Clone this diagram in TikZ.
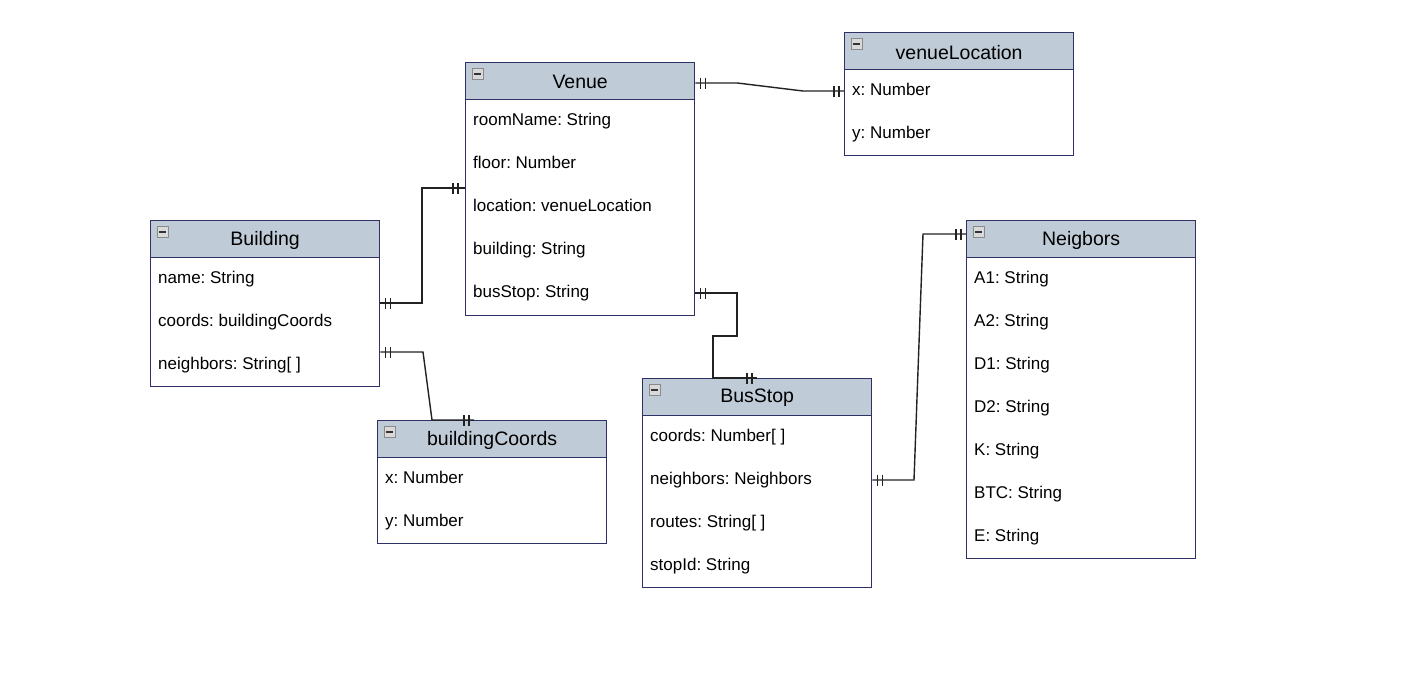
\documentclass[tikz,border=0pt]{standalone}
\usepackage{fontspec}
\setmainfont{Liberation Sans}
\usetikzlibrary{calc}
\frenchspacing
\definecolor{hdrfill}{HTML}{BFCBD6}
\definecolor{boxline}{HTML}{2E3066}
\definecolor{iconfill}{HTML}{D9D9D9}
\definecolor{iconline}{HTML}{8A8A8A}
\definecolor{connline}{HTML}{222222}
\tikzset{
  ebody/.style={draw=boxline, line width=1.3pt, fill=white, minimum width=229, inner sep=0pt},
  ehead/.style={draw=boxline, line width=1.3pt, fill=hdrfill, minimum width=229, minimum height=37, inner sep=0pt},
  etitle/.style={font=\fontsize{19.5}{22}\selectfont, inner sep=0pt, text=black},
  efield/.style={font=\fontsize{17}{20}\selectfont, inner sep=0pt, text=black},
  eicon/.style={draw=iconline, fill=iconfill, line width=0.7pt, minimum size=11, inner sep=0pt},
  icondash/.style={draw=black!80, line width=1.6pt},
  conn/.style={draw=connline, line width=1.4pt},
  dbltick/.pic={\draw[conn] (5,-5.5) -- (5,5.5) (10,-5.5) -- (10,5.5);}
}
\newcommand\erbox[5]{%
  \node[ebody, minimum height=#3, anchor=north west] (#1) at #2 {};
  \node[ehead, anchor=north west] (#1-h) at (#1.north west) {};
  \node[etitle] (#1-t) at ($(#1-h.center)+(0,1)$) {#4};
  \node[eicon, anchor=north west] (#1-i) at ($(#1.north west)+(7,6)$) {};
  \draw[icondash] ($(#1-i.center)+(-3.5,0)$) -- ($(#1-i.center)+(3.5,0)$);
  \foreach \f [count=\k] in {#5} {
    \node[efield, anchor=base west] (#1-f\k) at ($(#1.north west)+(8,20+43*\k)$) {\f};
  }%
}
\begin{document}
\begin{tikzpicture}[x=1pt, y=-1pt]
\useasboundingbox[fill=white] (0,0) rectangle (1408,680);

\erbox{venue}{(465,62)}{253}{Venue}{{roomName: String},{floor: Number},{location: venueLocation},{building: String},{busStop: String}}
\erbox{vloc}{(844,32)}{123}{venueLocation}{{x: Number},{y: Number}}
\erbox{bld}{(150,220)}{166}{Building}{{name: String},{coords: buildingCoords},{neighbors: String[ ]}}
\erbox{bc}{(377,420)}{123}{buildingCoords}{{x: Number},{y: Number}}
\erbox{bus}{(642,378)}{209}{BusStop}{{coords: Number[ ]},{neighbors: Neighbors},{routes: String[ ]},{stopId: String}}
\erbox{neig}{(966,220)}{338}{Neigbors}{{A1: String},{A2: String},{D1: String},{D2: String},{K: String},{BTC: String},{E: String}}

% connector end points
\coordinate (venueR1) at ($(venue.north east)+(0,21)$);
\coordinate (vlocL) at ($(vloc.north west)+(0,59)$);
\coordinate (bldR1) at ($(bld.north east)+(0,83)$);
\coordinate (venueL) at ($(venue.north west)+(0,126)$);
\coordinate (bldR2) at ($(bld.north east)+(0,132)$);
\coordinate (bcT) at ($(bc.north west)+(97,0)$);
\coordinate (venueR2) at ($(venue.north east)+(0,231)$);
\coordinate (busT) at ($(bus.north west)+(115,0)$);
\coordinate (busR) at ($(bus.north east)+(0,102)$);
\coordinate (neigL) at ($(neig.north west)+(0,14)$);

% connectors
\draw[conn] (venueR1) -- ++(42,0) -- (803,91) -- (vlocL);
\draw[conn] (bldR1) -- (422,303) -- (422,188) -- (venueL);
\draw[conn] (bldR2) -- (423,352) -- (432,420) -- (bcT);
\draw[conn] (venueR2) -- (737,293) -- (737,336) -- (713,336) -- (713,378) -- (busT);
\draw[conn] (busR) -- (914,480) -- (923,234) -- (neigL);

% cardinality ticks
\pic at (venueR1) {dbltick};
\pic[rotate=180] at (vlocL) {dbltick};
\pic at (bldR1) {dbltick};
\pic[rotate=180] at ($(venueL)+(-2,0)$) {dbltick};
\pic at (bldR2) {dbltick};
\pic[rotate=180] at (bcT) {dbltick};
\pic at (venueR2) {dbltick};
\pic[rotate=180] at (busT) {dbltick};
\pic at (busR) {dbltick};
\pic[rotate=180] at (neigL) {dbltick};
\end{tikzpicture}
\end{document}
